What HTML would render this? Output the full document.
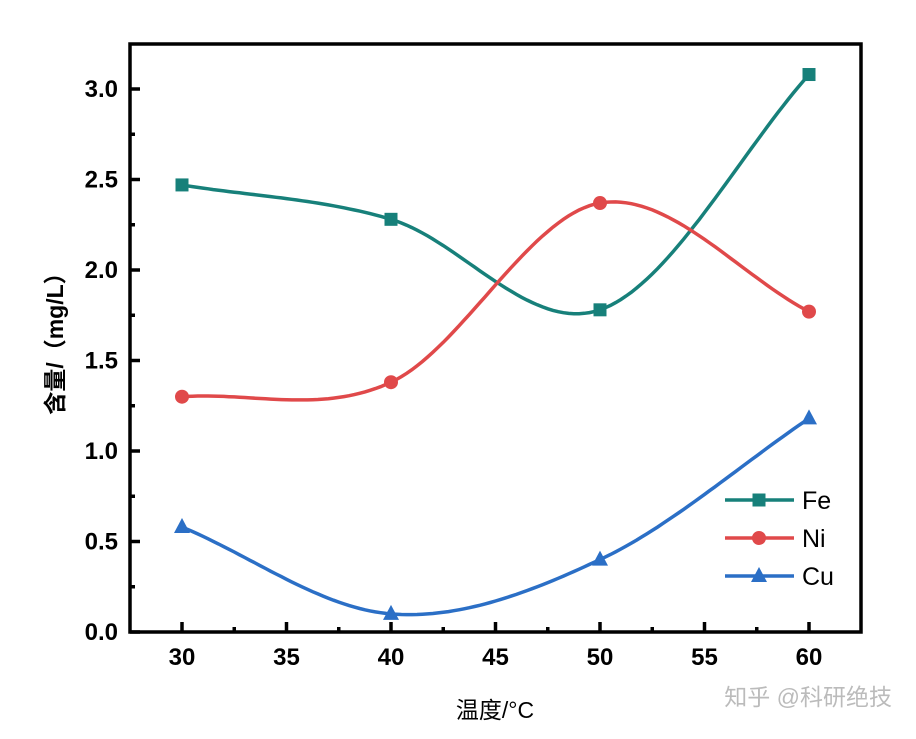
<!DOCTYPE html>
<html><head><meta charset="utf-8"><style>
body{margin:0;background:#fff}
svg text{font-family:"Liberation Sans","Noto Sans CJK SC",sans-serif}
</style></head><body>
<svg id="chart" width="916" height="734" xmlns="http://www.w3.org/2000/svg">
<rect x="0" y="0" width="916" height="734" fill="#fff"/>
</svg>
<script>
const categories=[30,40,50,60];
const feValues=[2.47,2.28,1.78,3.08];
const niValues=[1.30,1.38,2.37,1.77];
const cuValues=[0.58,0.10,0.40,1.18];
const xTicks=[30,35,40,45,50,55,60];
const yTicks=[0,0.5,1.0,1.5,2.0,2.5,3.0];
const yTickLabels=["0.0","0.5","1.0","1.5","2.0","2.5","3.0"];

const NS="http://www.w3.org/2000/svg";
const svg=document.getElementById('chart');
const L=130,R=861,T=44,B=632;
const X=v=>182+(v-30)*(809-182)/30;
const Y=v=>632-v*(632-89)/3;
function mk(tag,attrs,parent){const e=document.createElementNS(NS,tag);for(const k in attrs)e.setAttribute(k,attrs[k]);(parent||svg).appendChild(e);return e;}

const frame=mk('rect',{x:L,y:T,width:R-L,height:B-T,fill:'none',stroke:'#000','stroke-width':3.5});



for(let i=0;i<xTicks.length;i++){
  const x=X(xTicks[i]);
  const t=mk('line',{x1:x,y1:B,x2:x,y2:B-10,stroke:'#000','stroke-width':3.5});
  
  
  if(i<xTicks.length-1){
    const mx=X(xTicks[i]+2.5);
    const m=mk('line',{x1:mx,y1:B,x2:mx,y2:B-5,stroke:'#000','stroke-width':3.5});
    
    
  }
  const lb=mk('text',{x:x,y:B+33,'text-anchor':'middle','font-size':24,'font-weight':'bold'});
  lb.textContent=xTicks[i];
  
  
}
for(let i=0;i<yTicks.length;i++){
  const y=Y(yTicks[i]);
  const t=mk('line',{x1:L,y1:y,x2:L+10,y2:y,stroke:'#000','stroke-width':3.5});
  
  
  const my=Y(yTicks[i]+0.25);
  if(my>T){
    const m=mk('line',{x1:L,y1:my,x2:L+5,y2:my,stroke:'#000','stroke-width':3.5});
    
    
  }
  const lb=mk('text',{x:L-12,y:y+8,'text-anchor':'end','font-size':24,'font-weight':'bold'});
  lb.textContent=yTickLabels[i];
  
  
}

function spline(xs,ys){
  const n=xs.length,m=[];
  for(let i=0;i<n;i++){
    if(i===0)m[i]=(ys[1]-ys[0])/(xs[1]-xs[0]);
    else if(i===n-1)m[i]=(ys[n-1]-ys[n-2])/(xs[n-1]-xs[n-2]);
    else m[i]=(ys[i+1]-ys[i-1])/(xs[i+1]-xs[i-1]);
  }
  const pts=[];
  for(let j=0;j<n-1;j++){const h=xs[j+1]-xs[j];for(let s=0;s<=40;s++){const t=s/40;
    const h00=2*t*t*t-3*t*t+1,h10=t*t*t-2*t*t+t,h01=-2*t*t*t+3*t*t,h11=t*t*t-t*t;
    pts.push([xs[j]+h*t,h00*ys[j]+h10*h*m[j]+h01*ys[j+1]+h11*h*m[j+1]]);}}
  return pts;
}
function marker(type,x,y,col,parent){
  let m;
  if(type==='square')m=mk('rect',{x:x-6.5,y:y-6.5,width:13,height:13,fill:col},parent);
  else if(type==='circle')m=mk('circle',{cx:x,cy:y,r:7,fill:col},parent);
  else m=mk('polygon',{points:`${x},${y-9} ${x-8},${y+6} ${x+8},${y+6}`,fill:col},parent);
  return m;
}
const series=[
  {name:'fe',label:'Fe',vals:feValues,col:'#17807a',mk:'square'},
  {name:'ni',label:'Ni',vals:niValues,col:'#e0494a',mk:'circle'},
  {name:'cu',label:'Cu',vals:cuValues,col:'#2b6fc6',mk:'triangle'}
];
series.forEach((s,k)=>{
  const g=mk('g',{});
  
  
  const pts=spline(categories,s.vals);
  const p=mk('path',{d:'M'+pts.map(q=>X(q[0]).toFixed(1)+','+Y(q[1]).toFixed(1)).join('L'),fill:'none',stroke:s.col,'stroke-width':3.5},g);
  
  
  categories.forEach((c,i)=>{
    const m=marker(s.mk,X(c),Y(s.vals[i]),s.col,g);
    
    
  });
  const ly=500+k*38;
  const lg=mk('g',{});
  
  
  mk('line',{x1:725,y1:ly,x2:794,y2:ly,stroke:s.col,'stroke-width':3.5},lg);
  marker(s.mk,759,ly,s.col,lg);
  const t=mk('text',{x:802,y:ly+9,'font-size':25},lg);
  t.textContent=s.label;
});

const xt=mk('text',{x:495,y:718,'text-anchor':'middle','font-size':23,'font-family':'"Noto Serif CJK SC",serif'});
xt.textContent='温度/°C';


const yt=mk('text',{x:0,y:0,'text-anchor':'middle','font-size':23,'font-weight':'bold',transform:'translate(63,338) rotate(-90)'});
yt.textContent='含量/（mg/L）';


const wm=mk('text',{x:892,y:705,'text-anchor':'end','font-size':23,fill:'#bbb'});
wm.textContent='知乎 @科研绝技';


</script>
</body></html>
